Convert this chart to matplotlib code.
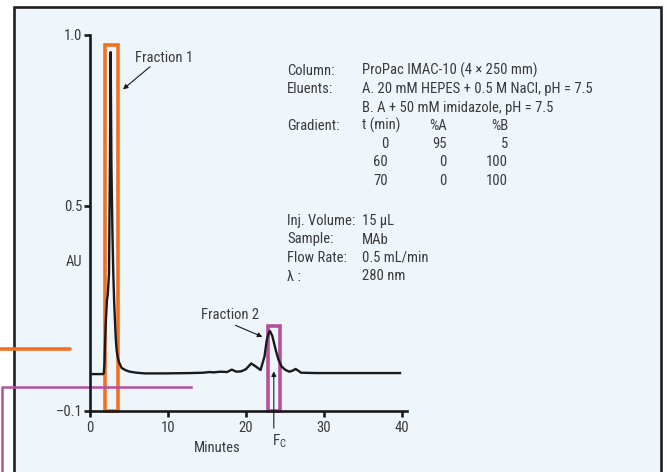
import matplotlib
matplotlib.use("Agg")
import matplotlib.pyplot as plt
import matplotlib.font_manager as fm
from matplotlib.patches import Rectangle

W, H = 667, 472

# Chromatogram trace (minutes, AU)
time_min = [0.0, 1.0, 1.7, 1.78, 1.86, 1.95, 2.05, 2.12, 2.18, 2.28, 2.44, 2.55, 2.65,
            2.75, 2.88, 2.99, 3.1, 3.2, 3.3, 3.42, 3.55, 3.72, 4.06, 4.6, 5.1, 6.0,
            7.05, 9.6, 12.95, 14.5, 15.4, 15.8, 16.8, 17.6, 18.2, 18.8, 19.4, 20.0,
            20.7, 21.3, 21.9, 22.4, 22.7, 22.9, 23.1, 23.4, 23.85, 24.2, 24.6, 25.1,
            25.6, 26.0, 26.4, 26.8, 27.1, 29.0, 32.0, 35.0, 39.8]
au = [0.008, 0.008, 0.008, 0.012, 0.04, 0.11, 0.17, 0.2, 0.225, 0.24, 0.303, 0.6, 0.95,
      0.62, 0.42, 0.303, 0.22, 0.166, 0.115, 0.078, 0.058, 0.043, 0.026, 0.019, 0.015, 0.012,
      0.010, 0.010, 0.011, 0.012, 0.014, 0.013, 0.015, 0.014, 0.021, 0.015, 0.016, 0.022,
      0.039, 0.03, 0.02, 0.059, 0.108, 0.125, 0.134, 0.12, 0.078, 0.05, 0.03, 0.02,
      0.015, 0.018, 0.023, 0.017, 0.012, 0.011, 0.011, 0.011, 0.011]

x_ticks = [0, 10, 20, 30, 40]
y_ticks = [-0.1, 0.5, 1.0]
y_tick_labels = ['\u20130.1', '0.5', '1.0']

# fraction windows (start, end, top) in minutes / AU
frac1 = (1.9, 3.62, 0.971)
frac2 = (22.82, 24.42, 0.148)
fc_time = 23.6

grad_t = [0, 60, 70]
grad_a = [95, 0, 0]
grad_b = [5, 100, 100]

text_col = '#3a3a3a'
orange = '#F37021'
magenta = '#B5509F'

# the original uses a condensed grotesque; take the narrowest one we have
names = {f.name for f in fm.fontManager.ttflist}
cond_dejavu = any(f.name == 'DejaVu Sans' and f.stretch == 'condensed'
                  for f in fm.fontManager.ttflist)
narrow = [n for n in ['Liberation Sans Narrow', 'Roboto Condensed', 'Nimbus Sans Narrow',
                      'Arial Narrow', 'Open Sans Condensed'] if n in names]
if narrow:
    plt.rcParams['font.family'] = [narrow[0], 'DejaVu Sans']
    fs = 10.5
elif cond_dejavu:
    plt.rcParams['font.family'] = ['DejaVu Sans']
    plt.rcParams['font.stretch'] = 'condensed'
    fs = 9.6
else:
    plt.rcParams['font.family'] = ['Liberation Sans', 'DejaVu Sans']
    fs = 9.6


def px(x, y):
    return x / W, 1 - y / H


fig = plt.figure(figsize=(W / 100, H / 100), dpi=100, facecolor='white')

# light panel with dark frame
fig.patches.append(Rectangle((14 / W, -0.1), (661 - 14) / W, 1.1 - 7.5 / H,
                             transform=fig.transFigure, facecolor='#EEF6FC',
                             edgecolor='#231f20', lw=1.9, zorder=-5))

ax = fig.add_axes([90 / W, 1 - 411 / H, (407 - 90) / W, 376 / H])
ax.set_facecolor('none')
ax.set_xlim(0, 40.7)
ax.set_ylim(-0.1, 1.0)

# fraction boxes and guide lines
ax.add_patch(Rectangle((frac1[0], -0.1), frac1[1] - frac1[0], frac1[2] + 0.1,
                       fill=False, edgecolor=orange, lw=2.6, clip_on=False, zorder=2))
ax.add_patch(Rectangle((frac2[0], -0.1), frac2[1] - frac2[0], frac2[2] + 0.1,
                       fill=False, edgecolor=magenta, lw=2.6, clip_on=False, zorder=2))
ax.plot([-11.6, -2.55], [0.081, 0.081], color=orange, lw=2.6, clip_on=False,
        solid_capstyle='round', zorder=2)
ax.plot([-11.25, -11.25, 12.95], [-0.4, -0.029, -0.029], color=magenta, lw=1.8,
        clip_on=False, zorder=2.5)

ax.plot(time_min, au, color='#1a1a1a', lw=1.7, zorder=3, solid_joinstyle='round')

for s in ['top', 'right']:
    ax.spines[s].set_visible(False)
for s in ['left', 'bottom']:
    ax.spines[s].set_linewidth(1.9)
    ax.spines[s].set_color('#1a1a1a')
    ax.spines[s].set_zorder(4)

ax.set_xticks(x_ticks)
ax.set_yticks(y_ticks)
ax.set_yticklabels(y_tick_labels)
ax.tick_params(axis='both', direction='out', length=4, width=1.9, color='#1a1a1a',
               labelsize=fs, labelcolor=text_col)
ax.tick_params(axis='y', pad=1.5)
ax.tick_params(axis='x', pad=3)

# annotations
arrow = dict(arrowstyle='-|>', lw=0.8, color='#1a1a1a', mutation_scale=7,
             shrinkA=0, shrinkB=0)
ax.text(5.77, 0.92, 'Fraction 1', fontsize=fs, color=text_col)
ax.annotate('', xy=(4.23, 0.841), xytext=(7.7, 0.907), arrowprops=arrow)
ax.text(14.23, 0.168, 'Fraction 2', fontsize=fs, color=text_col)
ax.annotate('', xy=(22.14, 0.117), xytext=(18.68, 0.1506), arrowprops=arrow)
ax.annotate('', xy=(fc_time, 0.016), xytext=(fc_time, -0.15), arrowprops=arrow,
            annotation_clip=False)

fig.text(*px(271.5, 445.5), r'F$_\mathregular{C}$', fontsize=fs + 0.5, color=text_col,
         va='baseline')
fig.text(*px(217.7, 448), 'Minutes', fontsize=fs, color=text_col, ha='center',
         va='center')
fig.text(*px(73.5, 262), 'AU', fontsize=fs, color=text_col, ha='center',
         va='center')

# method information
lab_x, val_x = 287.3, 361.7
rows = [('Column:', 'ProPac IMAC-10 (4 \u00d7 250 mm)', 75.0),
        ('Eluents:', 'A. 20 mM HEPES + 0.5 M NaCl, pH = 7.5', 93.3),
        ('', 'B. A + 50 mM imidazole, pH = 7.5', 111.6),
        ('Inj. Volume:', '15 \u00b5L', 225.0),
        ('Sample:', 'MAb', 243.5),
        ('Flow Rate:', '0.5 mL/min', 262.0),
        ('\u03bb :', '280 nm', 280.5)]
for lab, val, y in rows:
    if lab:
        fig.text(*px(lab_x, y), lab, fontsize=fs, color=text_col, va='baseline')
    fig.text(*px(val_x, y), val, fontsize=fs, color=text_col, va='baseline')

fig.text(*px(lab_x, 129.9), 'Gradient:', fontsize=fs, color=text_col, va='baseline')
fig.text(*px(val_x, 129.9), 't (min)', fontsize=fs, color=text_col, va='baseline')
fig.text(*px(447, 129.9), '%A', fontsize=fs, color=text_col, va='baseline', ha='right')
fig.text(*px(508, 129.9), '%B', fontsize=fs, color=text_col, va='baseline', ha='right')
for i, (t, a, b) in enumerate(zip(grad_t, grad_a, grad_b)):
    y = 148.2 + i * 18.3
    fig.text(*px(388, y), str(t), fontsize=fs, color=text_col, va='baseline', ha='right')
    fig.text(*px(447, y), str(a), fontsize=fs, color=text_col, va='baseline', ha='right')
    fig.text(*px(508, y), str(b), fontsize=fs, color=text_col, va='baseline', ha='right')

fig.savefig('out.png', dpi=100, facecolor='white')
